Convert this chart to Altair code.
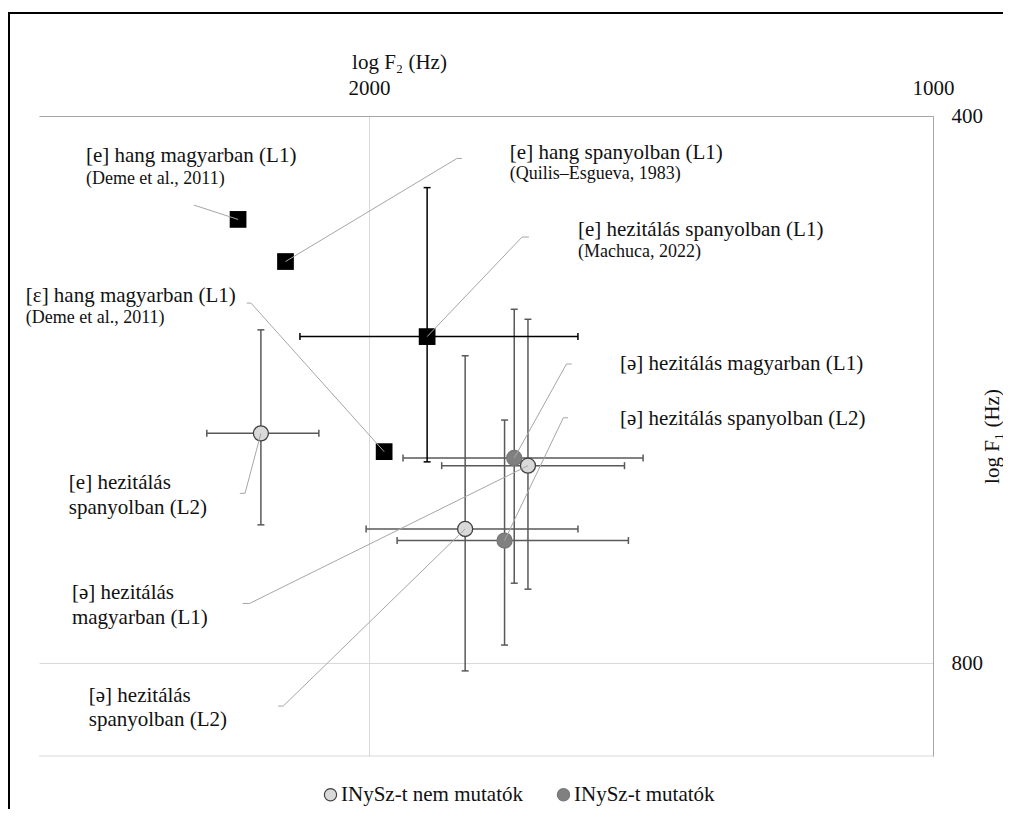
import altair as alt
import pandas as pd

FONT = "Liberation Serif"
TXT = "#111111"

# ---------------- data ----------------
# reference vowels (black squares)
REF_NAMES = ["[e] hang magyarban (L1)", "[e] hang spanyolban (L1)",
             "[e] hezitálás spanyolban (L1)", "[ε] hang magyarban (L1)"]
REF_F2 = [2349, 2216, 1862, 1963]
REF_F1 = [456, 481, 529, 612]
REF_SD_F2 = [0, 0, 315, 0]
REF_SD_F1 = [0, 0, 91, 0]

# hesitation vowels of the speakers (circles)
GROUPS = ["INySz-t nem mutatók", "INySz-t mutatók"]
CIRC_NAMES = ["[e] hezitálás spanyolban (L2)", "[ə] hezitálás magyarban (L1)",
              "[ə] hezitálás magyarban (L1)", "[ə] hezitálás spanyolban (L2)",
              "[ə] hezitálás spanyolban (L2)"]
CIRC_GROUP = ["INySz-t nem mutatók", "INySz-t nem mutatók", "INySz-t mutatók",
              "INySz-t nem mutatók", "INySz-t mutatók"]
CIRC_F2 = [2284, 1645, 1673, 1777, 1693]
CIRC_F1 = [598, 623, 617, 675, 685]
CIRC_SD_F2 = [157, 184, 245, 230, 239]
CIRC_SD_F1 = [73.5, 105.5, 106, 133, 97]

# annotation labels (anchor in Hz)
LABEL_TEXT = ["[e] hang magyarban (L1)", "[e] hang spanyolban (L1)",
              "[e] hezitálás spanyolban (L1)", "[ε] hang magyarban (L1)",
              "[e] hezitálás", "spanyolban (L2)",
              "[ə] hezitálás", "magyarban (L1)",
              "[ə] hezitálás", "spanyolban (L2)",
              "[ə] hezitálás magyarban (L1)", "[ə] hezitálás spanyolban (L2)"]
LABEL_F2 = [2832, 1682, 1547, 3049, 2892, 2892, 2881, 2881, 2822, 2822, 1469, 1469]
LABEL_F1 = [420.8, 419.2, 462.2, 502.2, 636.6, 657.6, 732.4, 756.0, 834.2, 859.9, 547.7, 587.2]

SOURCE_TEXT = ["(Deme et al., 2011)", "(Quilis–Esgueva, 1983)", "(Machuca, 2022)", "(Deme et al., 2011)"]
SOURCE_F2 = [2832, 1682, 1547, 3049]
SOURCE_F1 = [433.3, 430.5, 475.1, 516.7]

# leader lines: label end, elbow, target marker
LEADER_F2 = [2480, 1784, 1643, 2324, 2344, 2336, 2236, 1559, 1566]
LEADER_ELBOW_F2 = [2480, 1795, 1657, 2312, 2329, 2316, 2222, 1569, 1575]
LEADER_F1 = [447.8, 422.1, 466.3, 507.0, 645.2, 741.8, 844.8, 547.7, 586.3]
LEADER_TARGET = [("ref", 0), ("ref", 1), ("ref", 2), ("ref", 3),
                 ("circ", 0), ("circ", 1), ("circ", 3), ("circ", 2), ("circ", 4)]

# ---------------- tables ----------------
ref_df = pd.DataFrame(dict(name=REF_NAMES, f2=REF_F2, f1=REF_F1, sd2=REF_SD_F2, sd1=REF_SD_F1))
circ_df = pd.DataFrame(dict(name=CIRC_NAMES, group=CIRC_GROUP, f2=CIRC_F2, f1=CIRC_F1,
                            sd2=CIRC_SD_F2, sd1=CIRC_SD_F1))
circ_df["ord"] = [1 if g == GROUPS[0] else 0 for g in CIRC_GROUP]
for d in (ref_df, circ_df):
    d["f2lo"] = d.f2 - d.sd2
    d["f2hi"] = d.f2 + d.sd2
    d["f1lo"] = d.f1 - d.sd1
    d["f1hi"] = d.f1 + d.sd1
ref_err = ref_df[ref_df.sd2 > 0]

lead_rows = []
for i, (kind, idx) in enumerate(LEADER_TARGET):
    src = ref_df if kind == "ref" else circ_df
    lead_rows.append(dict(id=i, seq=0, f2=LEADER_F2[i], f1=LEADER_F1[i]))
    lead_rows.append(dict(id=i, seq=1, f2=LEADER_ELBOW_F2[i], f1=LEADER_F1[i]))
    lead_rows.append(dict(id=i, seq=2, f2=float(src.f2[idx]), f1=float(src.f1[idx])))
lead_df = pd.DataFrame(lead_rows)

label_df = pd.DataFrame(dict(text=LABEL_TEXT, f2=LABEL_F2, f1=LABEL_F1))
source_df = pd.DataFrame(dict(text=SOURCE_TEXT, f2=SOURCE_F2, f1=SOURCE_F1))

# ---------------- scales / axes ----------------
W, H = 894, 640
xscale = alt.Scale(type="log", domain=[1000, 3000], reverse=True, nice=False)
yscale = alt.Scale(type="log", domain=[400, 900], reverse=True, nice=False)

xaxis = alt.Axis(orient="top", values=[1000, 2000], format="d", grid=True,
                 gridColor="#d9d9d9", gridWidth=1, domain=True, domainColor="#a6a6a6",
                 domainWidth=1, ticks=False, labelFont=FONT, labelFontSize=21,
                 labelColor=TXT, labelPadding=28, labelBaseline="middle",
                 labelFlush=False, labelOverlap=False,
                 title="log F₂ (Hz)", titleFont=FONT, titleFontSize=21,
                 titleFontWeight="normal", titleColor=TXT, titleX=360, titleY=-54,
                 titleBaseline="middle", titleAlign="center")
yaxis = alt.Axis(orient="right", values=[400, 800], format="d", grid=True,
                 gridColor="#d9d9d9", gridWidth=1, domain=True, domainColor="#a6a6a6",
                 domainWidth=1, ticks=False, labelFont=FONT, labelFontSize=21,
                 labelColor=TXT, labelPadding=18, labelOverlap=False,
                 title="log F₁ (Hz)", titleFont=FONT, titleFontSize=21,
                 titleFontWeight="normal", titleColor=TXT, titleAngle=270,
                 titleX=59, titleY=320, titleBaseline="middle", titleAlign="center")


def X(field):
    return alt.X(field, type="quantitative", scale=xscale, axis=xaxis)


def Y(field):
    return alt.Y(field, type="quantitative", scale=yscale, axis=yaxis)


def errbars(df, color):
    base = alt.Chart(df)
    tick = dict(size=7, thickness=1.5, color=color, opacity=1)
    return [
        base.mark_rule(color=color, strokeWidth=1.5).encode(x=X("f2lo"), x2="f2hi", y=Y("f1")),
        base.mark_rule(color=color, strokeWidth=1.5).encode(x=X("f2"), y=Y("f1lo"), y2="f1hi"),
        base.mark_tick(orient="vertical", **tick).encode(x=X("f2lo"), y=Y("f1")),
        base.mark_tick(orient="vertical", **tick).encode(x=X("f2hi"), y=Y("f1")),
        base.mark_tick(orient="horizontal", **tick).encode(x=X("f2"), y=Y("f1lo")),
        base.mark_tick(orient="horizontal", **tick).encode(x=X("f2"), y=Y("f1hi")),
    ]


legend = alt.Legend(orient="none", legendX=281, legendY=668, direction="horizontal",
                    title=None, labelFont=FONT, labelFontSize=21, labelColor=TXT,
                    labelLimit=400, symbolSize=150, symbolStrokeWidth=1.2,
                    symbolType="circle", labelOffset=0, columnPadding=30)

bottom_rule = alt.Chart(pd.DataFrame({"f1": [900]})).mark_rule(
    color="#d9d9d9", strokeWidth=1).encode(y=Y("f1"))

squares = alt.Chart(ref_df).mark_square(size=280, color="black", opacity=1).encode(
    x=X("f2"), y=Y("f1"))

circles = alt.Chart(circ_df).mark_circle(size=227, opacity=1, strokeWidth=1.3).encode(
    x=X("f2"), y=Y("f1"),
    fill=alt.Fill("group:N", scale=alt.Scale(domain=GROUPS, range=["#d9d9d9", "#808080"]), legend=legend),
    stroke=alt.Stroke("group:N", scale=alt.Scale(domain=GROUPS, range=["#404040", "#767676"]), legend=legend),
    order=alt.Order("ord:Q"),
)

leaders = alt.Chart(lead_df).mark_line(color="#a6a6a6", strokeWidth=1).encode(
    x=X("f2"), y=Y("f1"), detail="id:N", order="seq:Q")

labels = alt.Chart(label_df).mark_text(align="left", baseline="middle", font=FONT,
                                       fontSize=21, color=TXT).encode(
    x=X("f2"), y=Y("f1"), text="text:N")

sources = alt.Chart(source_df).mark_text(align="left", baseline="middle", font=FONT,
                                         fontSize=18, color=TXT).encode(
    x=X("f2"), y=Y("f1"), text="text:N")

frame = alt.Chart(pd.DataFrame({"k": [0]})).mark_rect(
    fillOpacity=0, stroke="black", strokeWidth=2).encode(
    x=alt.value(-30), x2=alt.value(W + 200), y=alt.value(-103), y2=alt.value(H + 200))

layers = [bottom_rule] + errbars(circ_df, "#595959") + errbars(ref_err, "#000000") + \
         [squares, circles, leaders, labels, sources, frame]

chart = alt.layer(*layers).properties(
    width=W, height=H,
    padding={"left": 31, "top": 108, "right": 70, "bottom": 53},
    autosize=alt.AutoSizeParams(type="none"),
    background="white",
).configure_view(stroke=None)

chart.save("out.html", embed_options={"renderer": "svg", "actions": False})
